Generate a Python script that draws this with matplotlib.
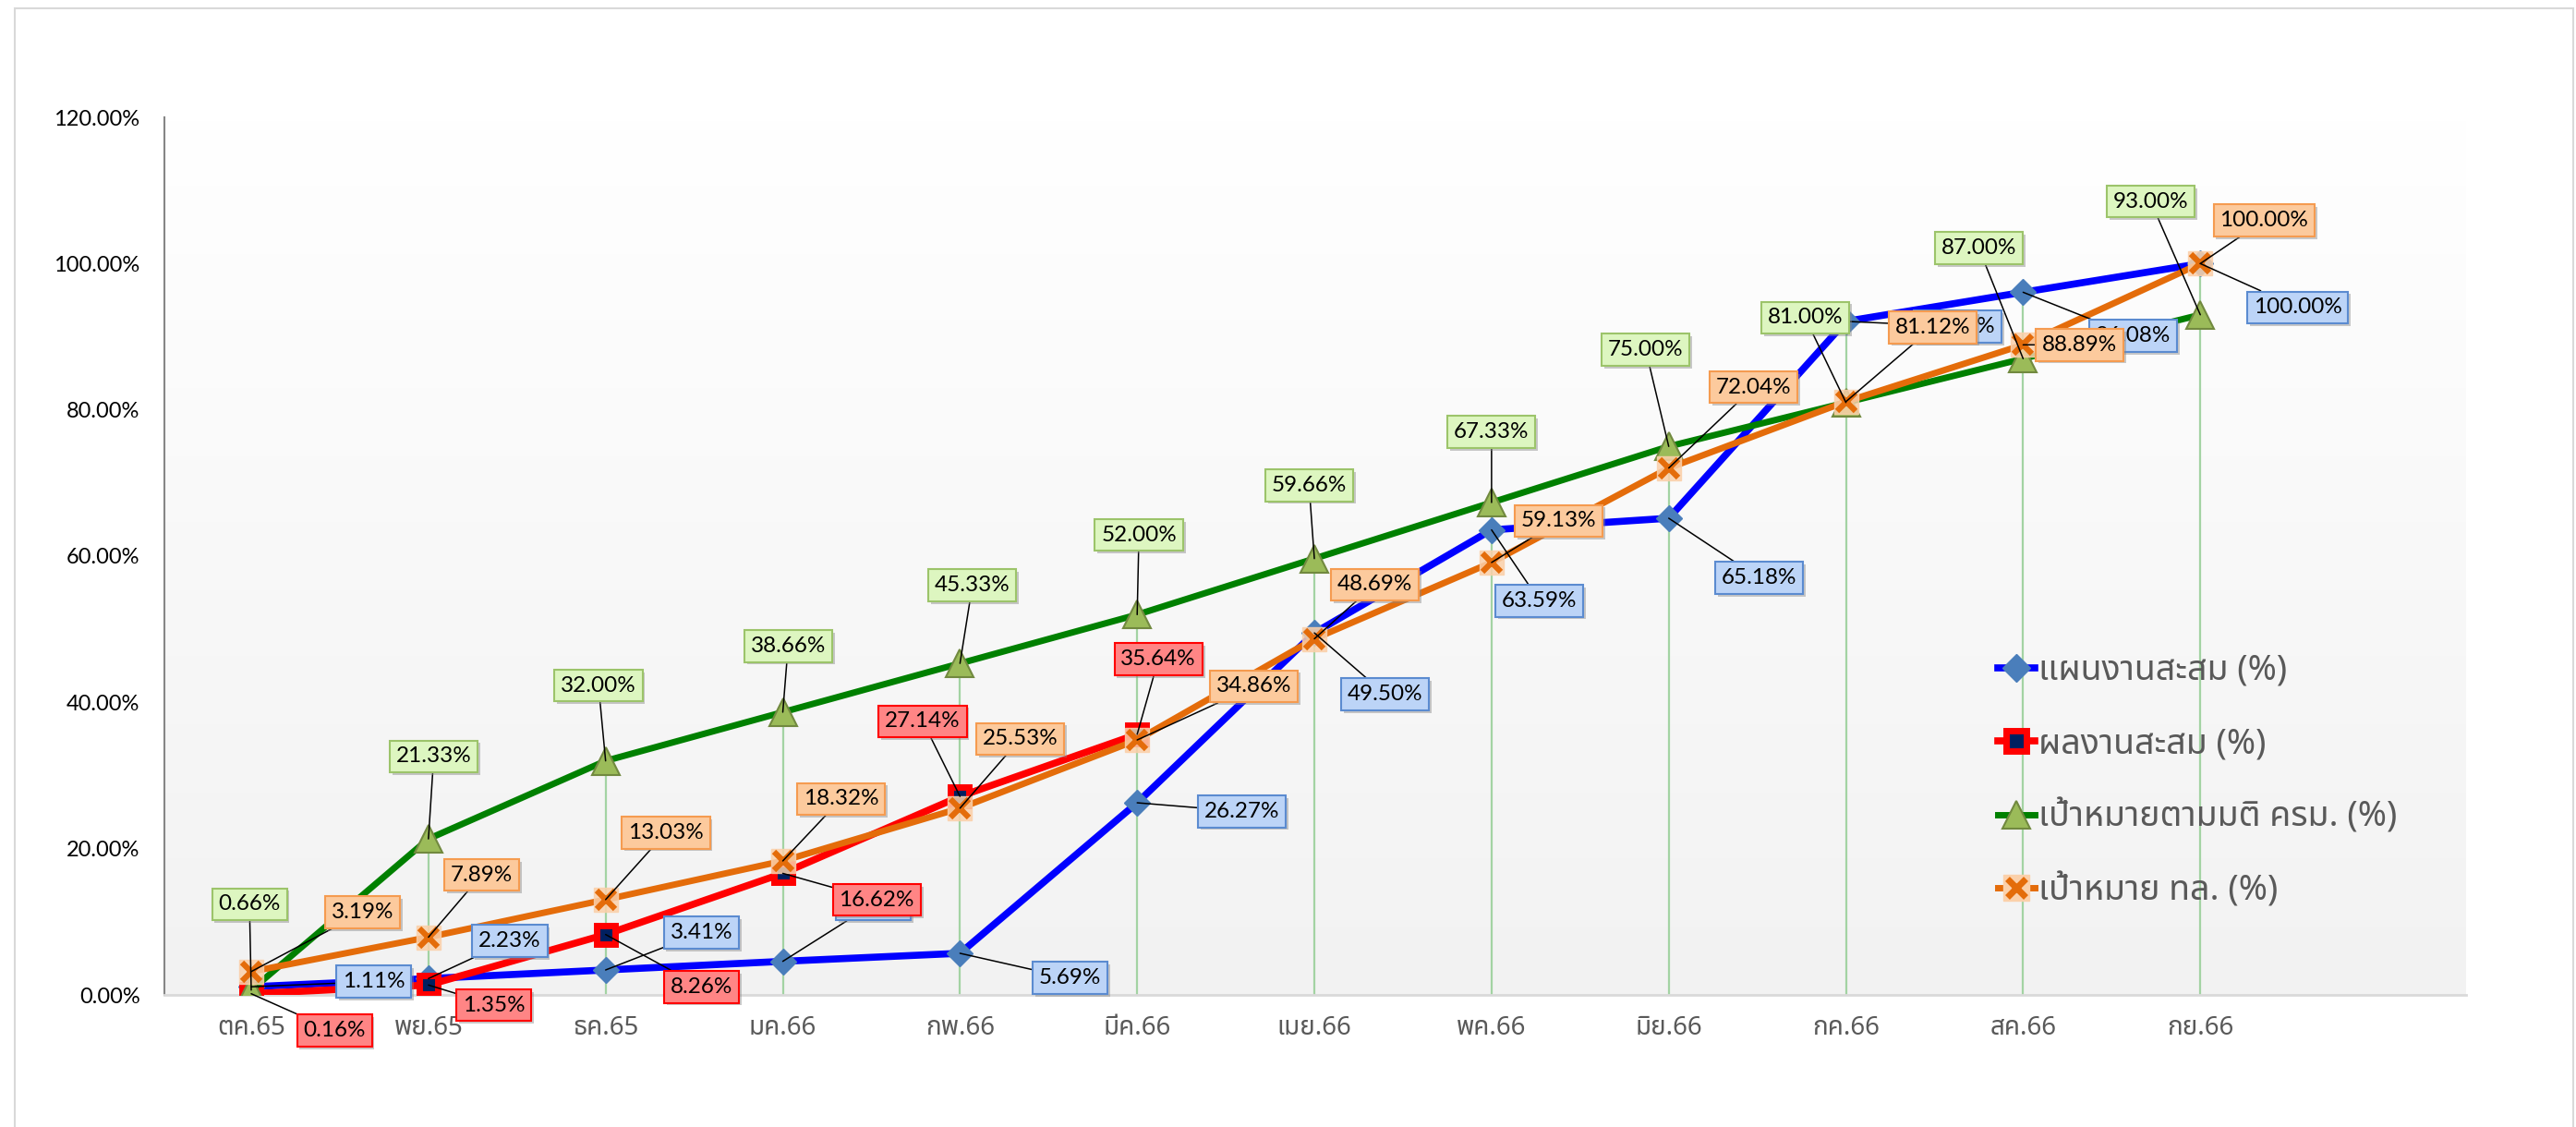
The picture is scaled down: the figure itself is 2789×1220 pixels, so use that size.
import numpy as np
import matplotlib
matplotlib.use('Agg')
import matplotlib.pyplot as plt
import matplotlib.patheffects as pe
from matplotlib import font_manager
from matplotlib.ft2font import FT2Font
from matplotlib.lines import Line2D
from matplotlib.patches import Rectangle


def find_thai_font():
    """Return the name of an installed family that has Thai glyphs"""
    found = []
    for f in font_manager.fontManager.ttflist:
        try:
            if 0x0E01 in FT2Font(f.fname).get_charmap():
                found.append(f.name)
        except Exception:
            continue
    for pref in ['Noto Sans Thai', 'Noto Sans Thai UI', 'Noto Sans Thai Looped',
                 'Loma', 'Garuda', 'Sarabun', 'Tahoma', 'Leelawadee UI']:
        if pref in found:
            return pref
    return found[0] if found else 'DejaVu Sans'


THAI = find_thai_font()
NUM_FONT = ['Lato', 'DejaVu Sans']
THAI_FONT = [THAI, 'Noto Sans', 'DejaVu Sans']

months = ['ตค.65', 'พย.65', 'ธค.65', 'มค.66', 'กพ.66', 'มีค.66',
          'เมย.66', 'พค.66', 'มิย.66', 'กค.66', 'สค.66', 'กย.66']

plan = [1.11, 2.23, 3.41, 4.59, 5.69, 26.27, 49.50, 63.59, 65.18, 92.10, 96.08, 100.00]
result = [0.16, 1.35, 8.26, 16.62, 27.14, 35.64]
cabinet_target = [0.66, 21.33, 32.00, 38.66, 45.33, 52.00, 59.66, 67.33, 75.00, 81.00, 87.00, 93.00]
doh_target = [3.19, 7.89, 13.03, 18.32, 25.53, 34.86, 48.69, 59.13, 72.04, 81.12, 88.89, 100.00]

legend_labels = ['แผนงานสะสม (%)', 'ผลงานสะสม (%)',
                 'เป้าหมายตามมติ ครม. (%)', 'เป้าหมาย ทล. (%)']

# where the data labels sit (category units, percent)
plan_lbl = [(0.69, 1.8), (1.46, 7.4), (2.54, 8.5), (3.51, 12.4), (4.62, 2.3), (5.59, 25.1),
            (6.40, 41.1), (7.27, 53.9), (8.51, 57.0), (9.63, 91.4), (10.62, 90.1), (11.55, 94.0)]
result_lbl = [(0.47, -4.9), (1.37, -1.4), (2.54, 1.1), (3.53, 13.0), (3.79, 37.4), (5.12, 45.9)]
cabinet_lbl = [(-0.01, 12.4), (1.03, 32.6), (1.96, 42.3), (3.03, 47.7), (4.07, 56.0), (5.01, 62.9),
               (5.97, 69.7), (7.00, 77.0), (7.87, 88.2), (8.77, 92.6), (9.75, 102.1), (10.72, 108.5)]
doh_lbl = [(0.63, 11.3), (1.30, 16.4), (2.34, 22.2), (3.33, 26.8), (4.34, 35.0), (5.66, 42.2),
           (6.34, 56.1), (7.38, 64.8), (8.48, 83.1), (9.49, 91.3), (10.32, 88.9), (11.36, 105.9)]

W, H = 2789, 1220
fig = plt.figure(figsize=(W / 100, H / 100), dpi=100)
ax = fig.add_axes([178 / W, 1 - 1077 / H, (2670 - 178) / W, (1077 - 127) / H])

# chart border
fig.patches.append(Rectangle((16 / W, -0.02), (2786 - 16) / W, 1.02 - 9 / H,
                             transform=fig.transFigure, fill=False,
                             edgecolor='#d9d9d9', lw=1.5))

# plot area gradient
grad = np.linspace(1, 0, 256).reshape(-1, 1)
ax.imshow(grad, extent=[0, 1, 0, 1], transform=ax.transAxes, aspect='auto',
          cmap=matplotlib.colors.LinearSegmentedColormap.from_list('bg', ['#f2f2f2', '#ffffff']),
          zorder=0)

x = np.arange(len(months))
xr = np.arange(len(result))

# drop lines
tops = np.maximum.reduce([np.array(plan), np.array(cabinet_target), np.array(doh_target)])
ax.vlines(x, 0, tops, color='#a3d3a3', lw=1.6, zorder=1)

ax.plot(x, plan, color='#0000ff', lw=5.5, marker='D', ms=14,
        mfc='#4a7ebb', mec='#4a7ebb', zorder=3)
ax.plot(xr, result, color='#ff0000', lw=5.5, marker='s', ms=15,
        mfc='#002060', mec='#ff0000', mew=5, zorder=4)
ax.plot(x, cabinet_target, color='#008000', lw=5, marker='^', ms=21,
        mfc='#9bbb59', mec='#71893f', mew=1.5, zorder=5)
ax.plot(x, doh_target, color='#e46c0a', lw=5, zorder=6)
ax.plot(x, doh_target, ls='none', marker='s', ms=19, mfc='#fbd0aa', mec='#fbd0aa',
        alpha=0.85, zorder=6)
ax.plot(x, doh_target, ls='none', marker='x', ms=14, mec='#e46c0a', mew=4.5, zorder=6)


def add_labels(vals, pos, face, edge, z, xs):
    for xi, v, (lx, ly) in zip(xs, vals, pos):
        t = ax.annotate(f'{v:.2f}%', xy=(xi, v), xytext=(lx, ly),
                        ha='center', va='center', fontsize=17.5, family=NUM_FONT,
                        color='black', zorder=z, annotation_clip=False,
                        bbox=dict(boxstyle='square,pad=0.28', fc=face, ec=edge, lw=1.5),
                        arrowprops=dict(arrowstyle='-', color='black', lw=1.1,
                                        shrinkA=0, shrinkB=0))
        t.get_bbox_patch().set_path_effects([
            pe.SimplePatchShadow(offset=(2, -2), shadow_rgbFace='#888888', alpha=0.45),
            pe.Normal()])


add_labels(plan, plan_lbl, '#bcd4f7', '#5b8bd0', 10, x)
add_labels(result, result_lbl, '#ff8585', '#ff0000', 11, xr)
add_labels(cabinet_target, cabinet_lbl, '#ddf6c0', '#9cc46a', 12, x)
add_labels(doh_target, doh_lbl, '#fcca9d', '#f59b50', 13, x)

ax.set_xlim(-0.49, 12.5)
ax.set_ylim(0, 120)
ax.set_yticks(np.arange(0, 121, 20))
ax.set_yticklabels([f'{v:.2f}%' for v in np.arange(0, 121, 20)],
                   fontsize=17, family=NUM_FONT, color='black')
ax.set_xticks(x)
ax.set_xticklabels(months, fontsize=20, family=THAI_FONT, color='#595959')
ax.tick_params(axis='y', length=0, pad=19)
ax.tick_params(axis='x', length=0, pad=16)
for s in ['top', 'right']:
    ax.spines[s].set_visible(False)
ax.spines['left'].set_color('#868686')
ax.spines['left'].set_linewidth(1.5)
ax.spines['bottom'].set_color('#d9d9d9')
ax.spines['bottom'].set_linewidth(2)
ax.spines['left'].set_zorder(2)

handles = [
    Line2D([], [], color='#0000ff', lw=5.5, marker='D', ms=15, mfc='#4a7ebb', mec='#4a7ebb'),
    Line2D([], [], color='#ff0000', lw=5.5, marker='s', ms=16, mfc='#002060',
           mec='#ff0000', mew=5),
    Line2D([], [], color='#008000', lw=5, marker='^', ms=22, mfc='#9bbb59',
           mec='#71893f', mew=1.5),
    (Line2D([], [], color='#e46c0a', lw=5, marker='s', ms=20, mfc='#fbd0aa', mec='#fbd0aa'),
     Line2D([], [], ls='none', marker='x', ms=15, mec='#e46c0a', mew=5)),
]
leg = ax.legend(handles, legend_labels, loc='center left',
                bbox_to_anchor=(2163 / W, 1 - 845 / H), bbox_transform=fig.transFigure,
                frameon=False, borderpad=0, borderaxespad=0, handlelength=1.07,
                handletextpad=0.1, labelspacing=1.1,
                prop=dict(family=THAI_FONT, size=27))
for t in leg.get_texts():
    t.set_color('#595959')
leg.set_zorder(20)

fig.savefig('out.png', dpi=100)
